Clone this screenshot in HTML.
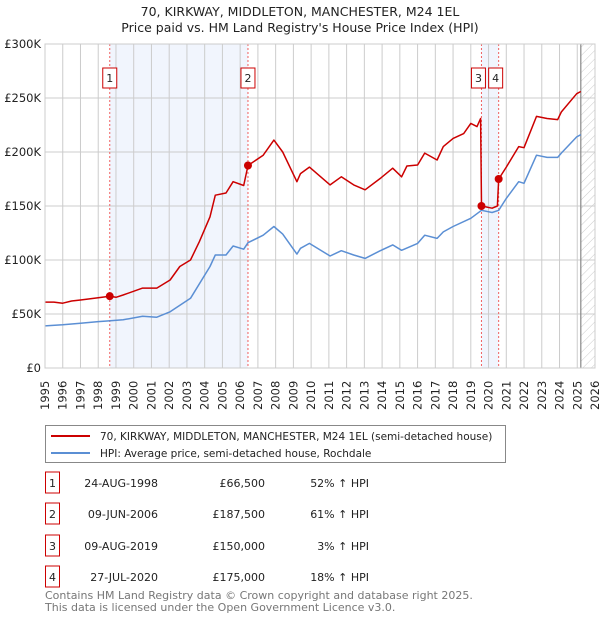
<!DOCTYPE html>
<html><head><meta charset="utf-8">
<style>
body{margin:0;background:#fff;font-family:"Liberation Sans","DejaVu Sans",sans-serif;}
svg text{font-family:"DejaVu Sans","Liberation Sans",sans-serif;}
</style></head>
<body>
<svg id="chart" width="600" height="620" xmlns="http://www.w3.org/2000/svg">
<defs>
<pattern id="hatch" patternUnits="userSpaceOnUse" width="6" height="6" patternTransform="rotate(45)">
<line x1="0" y1="0" x2="0" y2="6" stroke="#ccc" stroke-width="1"/>
</pattern>
</defs>
<text x="300" y="16" text-anchor="middle" font-size="12.5" fill="#222">70, KIRKWAY, MIDDLETON, MANCHESTER, M24 1EL</text>
<text x="300" y="32" text-anchor="middle" font-size="12.5" fill="#222">Price paid vs. HM Land Registry's House Price Index (HPI)</text>
<g id="plot"></g>
<g>
<rect x="45.5" y="425.5" width="460" height="37" fill="#fff" stroke="#888"/>
<line x1="51" y1="436" x2="90" y2="436" stroke="#cc0000" stroke-width="2"/>
<text x="100" y="440" font-size="10.5" fill="#222">70, KIRKWAY, MIDDLETON, MANCHESTER, M24 1EL (semi-detached house)</text>
<line x1="51" y1="453" x2="90" y2="453" stroke="#5b8fd4" stroke-width="2"/>
<text x="100" y="457" font-size="10.5" fill="#222">HPI: Average price, semi-detached house, Rochdale</text>
</g>
<g id="table"></g>
<text x="45" y="599" font-size="11" fill="#777">Contains HM Land Registry data © Crown copyright and database right 2025.</text>
<text x="45" y="611" font-size="11" fill="#777">This data is licensed under the Open Government Licence v3.0.</text>
</svg>
<script>
const hpiYears=[1995.0,1996,1997,1998,1998.5,1999.4,2000.5,2001.3,2002.05,2003.2,2004.3,2004.6,2005.2,2005.6,2006.2,2006.44,2007.3,2007.9,2008.4,2009.2,2009.4,2009.9,2011.07,2011.7,2012.4,2013.04,2013.9,2014.6,2015.1,2016,2016.4,2017.1,2017.45,2018,2019,2019.6,2020.2,2020.57,2021,2021.7,2022,2022.7,2023.3,2023.9,2024.1,2024.97,2025.2];
const hpiValues=[39,40,41.5,43,43.5,44.6,48,47,52,64.5,94,104.6,104.6,113,110,116,123,131,124,105.5,110.8,115.4,103.7,108.6,104.6,101.5,108.6,114,109,115.4,123,120,126,131,138.6,146,144,146,157,172.5,171,197,195,195,199,214,216];
const priceYears=[1995.0,1995.5,1996,1996.5,1997,1997.5,1998,1998.65,1999,1999.4,2000.5,2001.3,2002.05,2002.6,2003.2,2003.7,2004.3,2004.6,2005.2,2005.6,2006.2,2006.44,2007.3,2007.9,2008.4,2009.2,2009.4,2009.9,2011.07,2011.7,2012.4,2013.04,2013.9,2014.6,2015.1,2015.4,2016,2016.4,2017.1,2017.45,2018,2018.6,2019,2019.35,2019.55,2019.6,2020.2,2020.5,2020.57,2021,2021.7,2022,2022.7,2023.3,2023.9,2024.1,2024.97,2025.2];
const priceValues=[61,61,60,62,63,64,65,66.5,65.5,67.6,74,74,81.5,94,100,117,140,160,162,172.5,169,187.5,197,211,200,172.5,180,186,169.5,177,169.5,165,175.6,185,177,187,188,199,192.6,205,212.6,217,226.5,223.5,231,150,148,150,175,186,205,204,233,231,230,237,254,256];
const saleYears=[1998.65,2006.44,2019.6,2020.57];
const saleValues=[66.5,187.5,150,175];
const saleLabels=["1","2","3","4"];
const saleDates=["24-AUG-1998","09-JUN-2006","09-AUG-2019","27-JUL-2020"];
const salePrices=["£66,500","£187,500","£150,000","£175,000"];
const saleHpi=["52% ↑ HPI","61% ↑ HPI","3% ↑ HPI","18% ↑ HPI"];
const yTicks=[0,50,100,150,200,250,300];
const yTickLabels=["£0","£50K","£100K","£150K","£200K","£250K","£300K"];
const xTicks=[1995,1996,1997,1998,1999,2000,2001,2002,2003,2004,2005,2006,2007,2008,2009,2010,2011,2012,2013,2014,2015,2016,2017,2018,2019,2020,2021,2022,2023,2024,2025,2026];

const NS="http://www.w3.org/2000/svg";
const X0=45,X1=595,Y0=368,Y1=44;
const xs=y=>X0+(y-1995)/(2026-1995)*(X1-X0);
const ys=v=>Y0-v/300*(Y0-Y1);
const dataEnd=2025.2;
function mk(tag,attrs,parent){const e=document.createElementNS(NS,tag);for(const k in attrs)e.setAttribute(k,attrs[k]);parent.appendChild(e);return e;}
const plot=document.getElementById('plot');
for(const [a,b] of [[0,1],[2,3]]){
 const r=mk('rect',{x:xs(saleYears[a]),y:Y1,width:xs(saleYears[b])-xs(saleYears[a]),height:Y0-Y1,fill:'#eef3fc',opacity:0.8},plot);
 
 
}
const h=mk('rect',{x:xs(dataEnd),y:Y1,width:X1-xs(dataEnd),height:Y0-Y1,fill:'url(#hatch)'},plot);


xTicks.forEach(t=>{
 const l=mk('line',{x1:xs(t),x2:xs(t),y1:Y1,y2:Y0,stroke:'#ccc','stroke-width':1},plot);
 
 
 const tx=mk('text',{x:0,y:0,transform:`translate(${xs(t)+4},${Y0+42}) rotate(-90)`,'font-size':11.5,fill:'#222'},plot);
 tx.textContent=t;
 
 
});
yTicks.forEach((t,i)=>{
 const l=mk('line',{x1:X0,x2:X1,y1:ys(t),y2:ys(t),stroke:'#ccc','stroke-width':1},plot);
 
 
 const tx=mk('text',{x:X0-4,y:ys(t)+4,'text-anchor':'end','font-size':11.5,fill:'#222'},plot);
 tx.textContent=yTickLabels[i];
 
 
});
const el=mk('line',{x1:xs(dataEnd),x2:xs(dataEnd),y1:Y1,y2:Y0,stroke:'#888','stroke-width':1.2},plot);


saleYears.forEach(y=>{
 const l=mk('line',{x1:xs(y),x2:xs(y),y1:Y1,y2:Y0,stroke:'#f06060','stroke-width':1,'stroke-dasharray':'2,2'},plot);
 
 
});
function path(xa,va,col,name){
 const d=xa.map((x,i)=>(i?'L':'M')+xs(x).toFixed(1)+','+ys(va[i]).toFixed(1)).join('');
 const p=mk('path',{d,fill:'none',stroke:col,'stroke-width':1.5,'stroke-linejoin':'round'},plot);
 
 
}
path(hpiYears,hpiValues,'#5b8fd4','hpi-line');
path(priceYears,priceValues,'#cc0000','price-line');
const boxOff=[0,0,-3,-3];
saleYears.forEach((y,i)=>{
 const c=mk('circle',{cx:xs(y),cy:ys(saleValues[i]),r:4,fill:'#cc0000'},plot);
 
 
 const bx=xs(y)-7+boxOff[i];
 const r=mk('rect',{x:bx,y:68,width:14,height:20,fill:'#fff',stroke:'#cc0000'},plot);
 
 
 const t=mk('text',{x:bx+7,y:82,'text-anchor':'middle','font-size':11,fill:'#222'},plot);
 t.textContent=saleLabels[i];
 
 
});
const frame=mk('rect',{x:X0,y:Y1,width:X1-X0,height:Y0-Y1,fill:'none',stroke:'#ccc'},plot);


const tb=document.getElementById('table');
const rowY=[483,514,546,577];
saleLabels.forEach((s,i)=>{
 const y=rowY[i];
 const r=mk('rect',{x:45.5,y:y-11,width:14,height:21,fill:'#fff',stroke:'#cc0000'},tb);
 
 
 const cells=[[52.5,s,'middle'],[158,saleDates[i],'end'],[265,salePrices[i],'end'],[369,saleHpi[i],'end']];
 cells.forEach(c=>{
  const t=mk('text',{x:c[0],y:y+4,'text-anchor':c[2],'font-size':11,fill:'#222'},tb);
  t.textContent=c[1];
  
  
 });
});
</script>
</body></html>
